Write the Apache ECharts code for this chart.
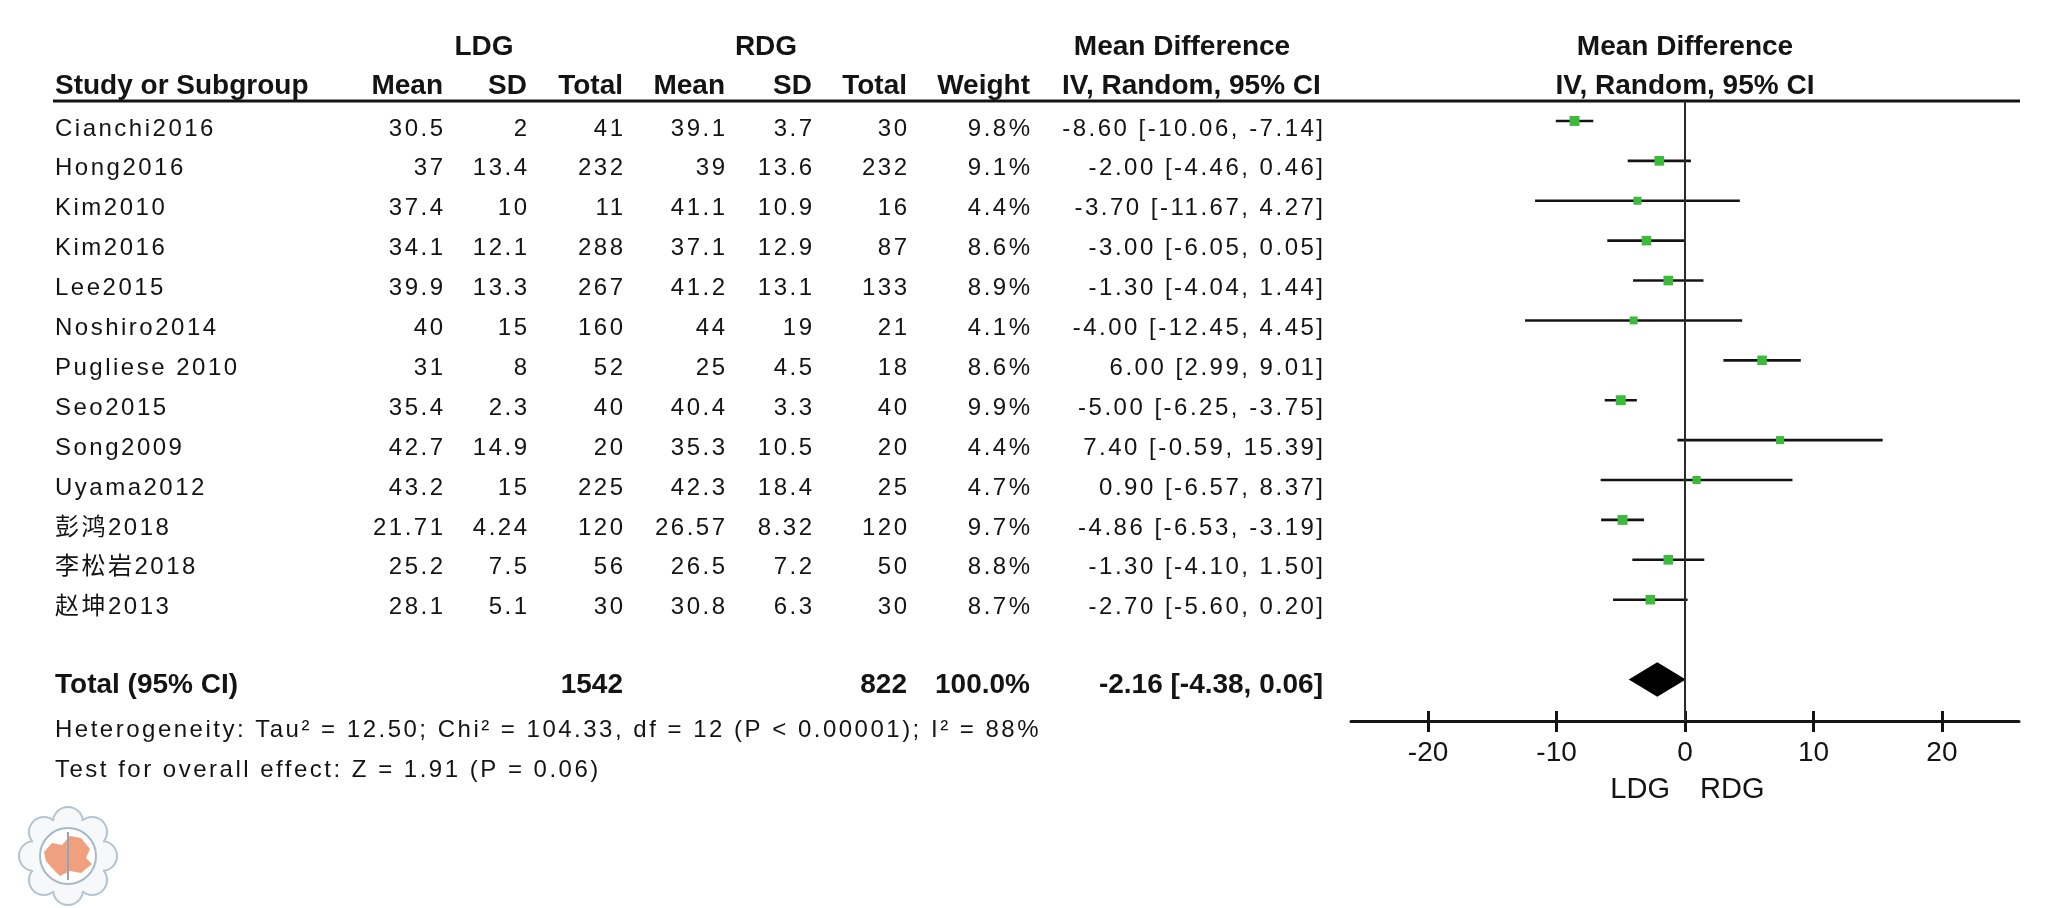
<!DOCTYPE html>
<html><head><meta charset="utf-8">
<script src="https://cdn.jsdelivr.net/npm/echarts@6/dist/echarts.min.js"></script>
<style>html,body{margin:0;padding:0;background:#fff}#c{width:2064px;height:908px}</style>
</head><body><div id="c"></div>
<script>
// ---------- data ----------
const studies   = ['Cianchi2016','Hong2016','Kim2010','Kim2016','Lee2015','Noshiro2014','Pugliese 2010','Seo2015','Song2009','Uyama2012','彭鸿2018','李松岩2018','赵坤2013'];
const ldgMean   = [30.5, 37, 37.4, 34.1, 39.9, 40, 31, 35.4, 42.7, 43.2, 21.71, 25.2, 28.1];
const ldgSD     = [2, 13.4, 10, 12.1, 13.3, 15, 8, 2.3, 14.9, 15, 4.24, 7.5, 5.1];
const ldgTotal  = [41, 232, 11, 288, 267, 160, 52, 40, 20, 225, 120, 56, 30];
const rdgMean   = [39.1, 39, 41.1, 37.1, 41.2, 44, 25, 40.4, 35.3, 42.3, 26.57, 26.5, 30.8];
const rdgSD     = [3.7, 13.6, 10.9, 12.9, 13.1, 19, 4.5, 3.3, 10.5, 18.4, 8.32, 7.2, 6.3];
const rdgTotal  = [30, 232, 16, 87, 133, 21, 18, 40, 20, 25, 120, 50, 30];
const weights   = [9.8, 9.1, 4.4, 8.6, 8.9, 4.1, 8.6, 9.9, 4.4, 4.7, 9.7, 8.8, 8.7];
const md        = [-8.60, -2.00, -3.70, -3.00, -1.30, -4.00, 6.00, -5.00, 7.40, 0.90, -4.86, -1.30, -2.70];
const ciLow     = [-10.06, -4.46, -11.67, -6.05, -4.04, -12.45, 2.99, -6.25, -0.59, -6.57, -6.53, -4.10, -5.60];
const ciHigh    = [-7.14, 0.46, 4.27, 0.05, 1.44, 4.45, 9.01, -3.75, 15.39, 8.37, -3.19, 1.50, 0.20];
const totalLdg  = 1542;
const totalRdg  = 822;
const totalWeight = 100.0;
const totalMD   = [-2.16, -4.38, 0.06];   // estimate, low, high
const tickValues = [-20, -10, 0, 10, 20];
const heteroText = 'Heterogeneity: Tau² = 12.50; Chi² = 104.33, df = 12 (P < 0.00001); I² = 88%';
const effectText = 'Test for overall effect: Z = 1.91 (P = 0.06)';

// ---------- layout / style ----------
const FONT = '"Liberation Sans", Arial, "Noto Sans CJK SC", sans-serif';
const INK = '#141414';
const GREEN = '#3cba3c';
const TOTAL_ROW = 14;
const SPACING = 2.5;   // letter spacing of the regular table text (px)

// widen the regular (24px, non-bold) table text like the reference rendering
(function () {
  const P = CanvasRenderingContext2D.prototype;
  if (!('letterSpacing' in P)) return;
  const orig = P.fillText;
  P.fillText = function (t, x, y, w) {
    const f = this.font || '';
    this.letterSpacing = (!/bold/.test(f) && /(^|\s)24px/.test(f)) ? SPACING + 'px' : '0px';
    return w === undefined ? orig.call(this, t, x, y) : orig.call(this, t, x, y, w);
  };
})();

const chart = echarts.init(document.getElementById('c'), null, {renderer: 'canvas'});

const studyData = studies.map((s, i) => [i, md[i], ciLow[i], ciHigh[i], weights[i]]);
const totalData = [[TOTAL_ROW, totalMD[0], totalMD[1], totalMD[2]]];

const baseX = {type: 'value', min: -26, max: 26, position: 'bottom', splitLine: {show: false}};

chart.setOption({
  animation: false,
  backgroundColor: '#fff',
  grid: {left: 1351, right: 45, top: 101, bottom: 187},
  xAxis: [
    Object.assign({}, baseX, {
      axisLine: {show: true, onZero: false, lineStyle: {color: INK, width: 3}},
      axisTick: {show: true, customValues: tickValues, length: 11, lineStyle: {color: INK, width: 3}},
      axisLabel: {show: true, customValues: tickValues, margin: 18, fontSize: 28, color: INK, fontFamily: FONT}
    }),
    Object.assign({}, baseX, {
      axisLine: {show: false, onZero: false},
      axisTick: {show: true, inside: true, customValues: tickValues, length: 10, lineStyle: {color: INK, width: 3}},
      axisLabel: {show: false}
    })
  ],
  yAxis: {type: 'value', min: -0.5, max: 15.04, inverse: true, show: false},
  series: [
    {
      type: 'line', data: [], silent: true,
      markLine: {
        symbol: 'none', silent: true, animation: false,
        label: {show: false},
        lineStyle: {color: '#2a2a2a', width: 2, type: 'solid'},
        data: [{xAxis: 0}]
      }
    },
    {
      type: 'custom', data: studyData, silent: true,
      encode: {x: [1, 2, 3], y: 0},
      renderItem: function (params, api) {
        const y = api.value(0);
        const p1 = api.coord([api.value(2), y]);
        const p2 = api.coord([api.value(3), y]);
        const c = api.coord([api.value(1), y]);
        const s = 6.5 + api.value(4) * 0.35;
        return {
          type: 'group', children: [
            {type: 'line', shape: {x1: p1[0], y1: p1[1], x2: p2[0], y2: p2[1]}, style: {stroke: INK, lineWidth: 2.6}},
            {type: 'rect', shape: {x: c[0] - s / 2, y: c[1] - s / 2, width: s, height: s}, style: {fill: GREEN}}
          ]
        };
      }
    },
    {
      type: 'custom', data: totalData, silent: true,
      encode: {x: [1, 2, 3], y: 0},
      renderItem: function (params, api) {
        const y = api.value(0);
        const h = 0.43;
        const pts = [
          api.coord([api.value(2), y]),
          api.coord([api.value(1), y - h]),
          api.coord([api.value(3), y]),
          api.coord([api.value(1), y + h])
        ];
        return {type: 'polygon', shape: {points: pts}, style: {fill: '#000'}};
      }
    }
  ]
});

// ---------- table text (positioned from the y scale) ----------
const rowY = i => chart.convertToPixel({yAxisIndex: 0}, i);
const fmt2 = v => v.toFixed(2);
const ciStr = (m, l, h) => fmt2(m) + ' [' + fmt2(l) + ', ' + fmt2(h) + ']';

const cols = [
  {x: 443, vals: ldgMean.map(String)},
  {x: 527, vals: ldgSD.map(String)},
  {x: 623, vals: ldgTotal.map(String)},
  {x: 725, vals: rdgMean.map(String)},
  {x: 812, vals: rdgSD.map(String)},
  {x: 907, vals: rdgTotal.map(String)},
  {x: 1030, vals: weights.map(w => w.toFixed(1) + '%')},
  {x: 1323, vals: md.map((m, i) => ciStr(m, ciLow[i], ciHigh[i]))}
];

const g = [];
function txt(x, y, s, opt) {
  opt = opt || {};
  g.push({
    type: 'text', x: x, y: y, silent: true,
    style: {
      text: s, fill: INK, font: (opt.bold ? 'bold ' : '') + (opt.size || 24) + 'px ' + FONT,
      textAlign: opt.align || 'left', textVerticalAlign: 'middle'
    }
  });
}

// headers
const H1 = 47, H2 = 86;
txt(484, H1, 'LDG', {bold: true, size: 28, align: 'center'});
txt(766, H1, 'RDG', {bold: true, size: 28, align: 'center'});
txt(1182, H1, 'Mean Difference', {bold: true, size: 28, align: 'center'});
txt(1685, H1, 'Mean Difference', {bold: true, size: 28, align: 'center'});
txt(55, H2, 'Study or Subgroup', {bold: true, size: 28});
const heads = ['Mean', 'SD', 'Total', 'Mean', 'SD', 'Total', 'Weight'];
heads.forEach((h, k) => txt(cols[k].x, H2, h, {bold: true, size: 28, align: 'right'}));
txt(1062, H2, 'IV, Random, 95% CI', {bold: true, size: 28});
txt(1685, H2, 'IV, Random, 95% CI', {bold: true, size: 28, align: 'center'});
g.push({type: 'line', silent: true, shape: {x1: 53, y1: 101, x2: 2020, y2: 101}, style: {stroke: INK, lineWidth: 3}});

// study rows
studies.forEach((s, i) => {
  const y = rowY(i) + 8;
  txt(55, y, s);
  cols.forEach(c => txt(c.x + SPACING, y, c.vals[i], {align: 'right'}));
});

// total row
const ty = rowY(TOTAL_ROW) + 6;
txt(55, ty, 'Total (95% CI)', {bold: true, size: 28});
txt(cols[2].x, ty, String(totalLdg), {bold: true, size: 28, align: 'right'});
txt(cols[5].x, ty, String(totalRdg), {bold: true, size: 28, align: 'right'});
txt(cols[6].x, ty, totalWeight.toFixed(1) + '%', {bold: true, size: 28, align: 'right'});
txt(cols[7].x, ty, ciStr(totalMD[0], totalMD[1], totalMD[2]), {bold: true, size: 28, align: 'right'});
txt(55, 730, heteroText);
txt(55, 770, effectText);

// favours labels
const zeroX = chart.convertToPixel({xAxisIndex: 0}, 0);
txt(zeroX - 15, 790, 'LDG', {size: 29, align: 'right'});
txt(zeroX + 15, 790, 'RDG', {size: 29});

// emblem (decorative)
const petals = [];
for (let k = 0; k < 8; k++) {
  const a = k * Math.PI / 4;
  petals.push({type: 'circle', shape: {cx: 34 * Math.cos(a), cy: 34 * Math.sin(a), r: 15},
    style: {fill: '#f6f8fa', stroke: '#b3c4d0', lineWidth: 2}});
}
g.push({
  type: 'group', x: 68, y: 856, silent: true, children: petals.concat([
    {type: 'circle', shape: {cx: 0, cy: 0, r: 38}, style: {fill: '#f6f8fa'}},
    {type: 'circle', shape: {cx: 0, cy: 0, r: 28}, style: {fill: '#fff', stroke: '#a7bac8', lineWidth: 2}},
    {type: 'polygon', shape: {points: [[-24,-4],[-16,-13],[-6,-11],[2,-20],[13,-18],[22,-7],[18,2],[24,8],[13,17],[2,15],[-8,20],[-17,11],[-22,5]]},
     style: {fill: '#f0a07e'}},
    {type: 'line', shape: {x1: 0, y1: -24, x2: 0, y2: 24}, style: {stroke: '#8fa6b6', lineWidth: 2}}
  ])
});

chart.setOption({graphic: g});
</script>
</body></html>
